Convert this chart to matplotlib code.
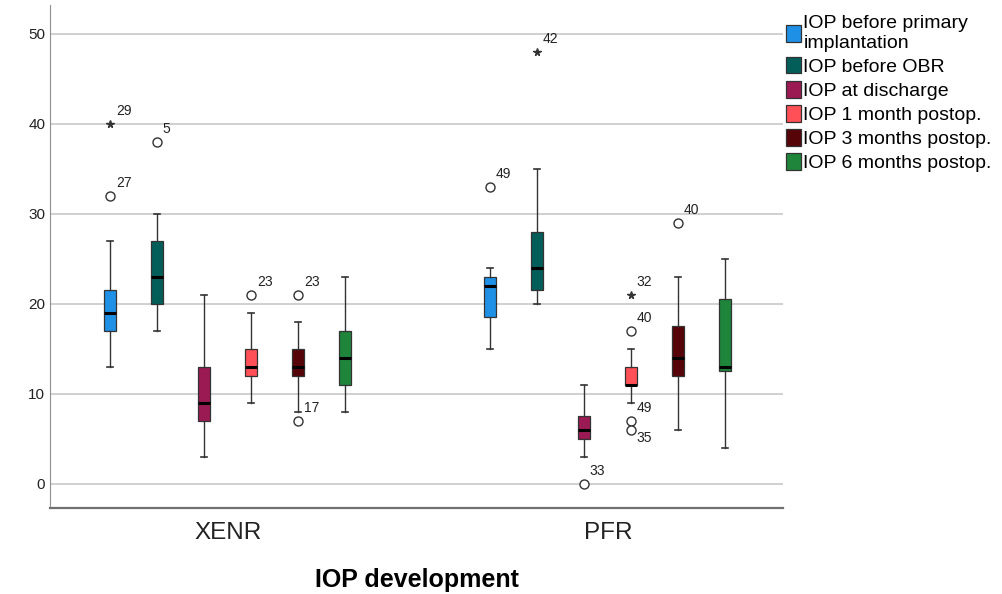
import matplotlib.pyplot as plt

plt.rcParams['font.family'] = ['Liberation Sans', 'DejaVu Sans']

groups = ['XENR', 'PFR']
series = ['IOP before primary\nimplantation', 'IOP before OBR', 'IOP at discharge',
          'IOP 1 month postop.', 'IOP 3 months postop.', 'IOP 6 months postop.']
colors = ['#1E90E6', '#035E5A', '#9B1A54', '#FF4F57', '#570408', '#1E853B']

# five-number summaries: whislo, q1, med, q3, whishi
xenr_stats = [(13, 17, 19, 21.5, 27), (17, 20, 23, 27, 30), (3, 7, 9, 13, 21),
              (9, 12, 13, 15, 19), (8, 12, 13, 15, 18), (8, 11, 14, 17, 23)]
pfr_stats = [(15, 18.5, 22, 23, 24), (20, 21.5, 24, 28, 35), (3, 5, 6, 7.5, 11),
             (9, 11, 11, 13, 15), (6, 12, 14, 17.5, 23), (4, 12.5, 13, 20.5, 25)]

# outliers: (value, case label, marker)
xenr_out = [[(32, '27', 'o'), (40, '29', '*')], [(38, '5', 'o')], [],
            [(21, '23', 'o')], [(21, '23', 'o'), (7, '17', 'o')], []]
pfr_out = [[(33, '49', 'o')], [(48, '42', '*')], [(0, '33', 'o')],
           [(21, '32', '*'), (17, '40', 'o'), (7, '49', 'o'), (6, '35', 'o')],
           [(29, '40', 'o')], []]

fig = plt.figure(figsize=(10.03, 5.94), dpi=100)
ax = fig.add_axes([50 / 1003, 86 / 594, 733 / 1003, 503 / 594])

step = 0.1237
for g, (stats, outs) in enumerate([(xenr_stats, xenr_out), (pfr_stats, pfr_out)]):
    for i, (st, out) in enumerate(zip(stats, outs)):
        x = g + (i - 2.5) * step
        d = dict(whislo=st[0], q1=st[1], med=st[2], q3=st[3], whishi=st[4], fliers=[])
        ax.bxp([d], positions=[x], widths=0.032, patch_artist=True,
               showfliers=False,
               boxprops=dict(facecolor=colors[i], edgecolor='#333333', linewidth=0.9),
               medianprops=dict(color='black', linewidth=2.2),
               whiskerprops=dict(color='#333333', linewidth=1),
               capprops=dict(color='#333333', linewidth=1.2),
               capwidths=0.016)
        for v, lab, m in out:
            if m == 'o':
                ax.plot(x, v, 'o', mfc='white', mec='#333333', ms=6.5, mew=1, zorder=4)
            else:
                ax.plot(x, v, '*', color='#333333', ms=5.5, zorder=4)
            dy = -6 if lab == '35' and g == 1 else 4
            ax.annotate(lab, (x, v), xytext=(4, dy), textcoords='offset points',
                        fontsize=10, color='#222222', va='bottom' if dy > 0 else 'center')

ax.set_xlim(-0.468, 1.461)
ax.set_ylim(-2.67, 53.2)
ax.set_yticks([0, 10, 20, 30, 40, 50])
ax.set_xticks([0, 1])
ax.set_xticklabels(groups)
ax.tick_params(axis='both', length=0, labelsize=11, colors='#222222')
ax.tick_params(axis='x', labelsize=17.5, pad=10)
ax.yaxis.grid(True, color='#c8c8c8', linewidth=1.2)
ax.set_axisbelow(True)
for s in ['top', 'right']:
    ax.spines[s].set_visible(False)
ax.spines['left'].set_color('#909090')
ax.spines['bottom'].set_color('#707070')
ax.spines['bottom'].set_linewidth(1.6)
ax.set_xlabel('IOP development', fontsize=18, fontweight='bold', labelpad=17)

handles = [plt.Rectangle((0, 0), 1, 1, facecolor=c, edgecolor='#333333', linewidth=0.9)
           for c in colors]
fig.legend(handles, series, loc='upper left', bbox_to_anchor=(786 / 1003, 1 - 15 / 594),
           frameon=False, fontsize=14, handlelength=0.75, handleheight=0.95,
           handletextpad=0.15, labelspacing=0.26, borderaxespad=0, borderpad=0)

fig.savefig('out.png', dpi=100)
